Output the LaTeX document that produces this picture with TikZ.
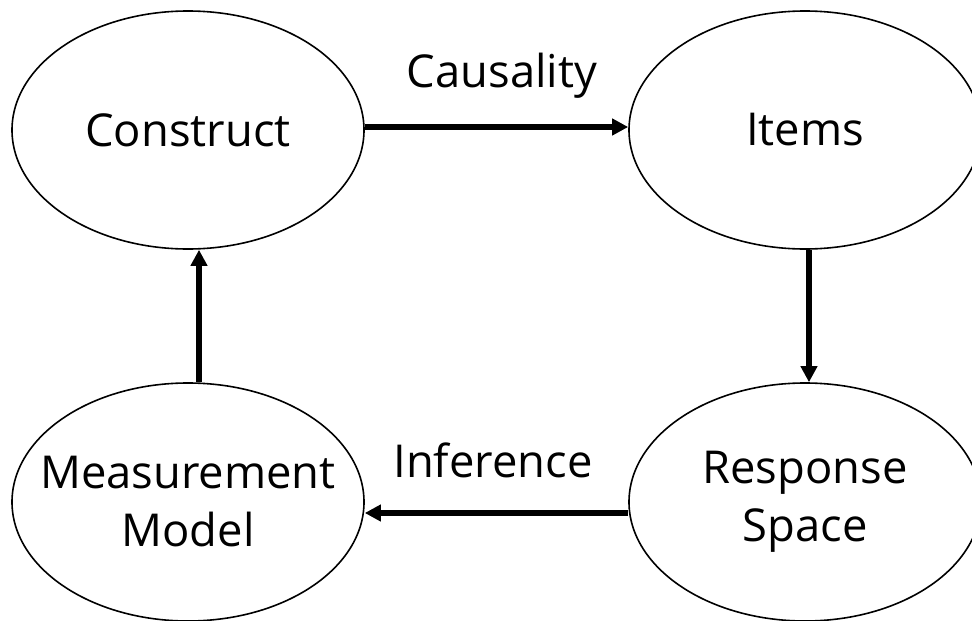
\documentclass[tikz,border=0pt]{standalone}
\usepackage{fontspec}
\setmainfont{Open Sans}
\usetikzlibrary{shapes.geometric,arrows.meta}
\begin{document}
\begin{tikzpicture}[x=0.75pt,y=-0.75pt,
  main node/.style={ellipse,draw,line width=1.2pt,minimum width=264pt,minimum height=178.5pt,
    inner xsep=-30pt,inner ysep=0pt,align=center,font=\fontsize{34}{43.5}\selectfont},
  link/.style={line width=4pt,-{Triangle[length=12pt,width=12pt]}},
  tag/.style={anchor=base,font=\fontsize{34}{43.5}\selectfont}]
  \useasboundingbox (0,0) rectangle (972,621);

  \node[main node] (c) at (188,130) {Construct};
  \node[main node] (i) at (805,130) {Items};
  \node[main node] (r) at (805,502) {Response\\Space};
  \node[main node] (m) at (188,502) {Measurement\\Model};

  \node[tag] (cl) at (502,87) {Causality};
  \node[tag] (il) at (493,477) {Inference};

  \draw[link] ([yshift=2.25pt]c.east) -- ([yshift=2.25pt]i.west);
  \draw[link] ([xshift=3pt]i.south) -- ([xshift=3pt]r.north);
  \draw[link] ([yshift=-8.25pt]r.west) -- ([yshift=-8.25pt]m.east);
  \draw[link] ([xshift=8.25pt]m.north) -- ([xshift=8.25pt]c.south);
\end{tikzpicture}
\end{document}
